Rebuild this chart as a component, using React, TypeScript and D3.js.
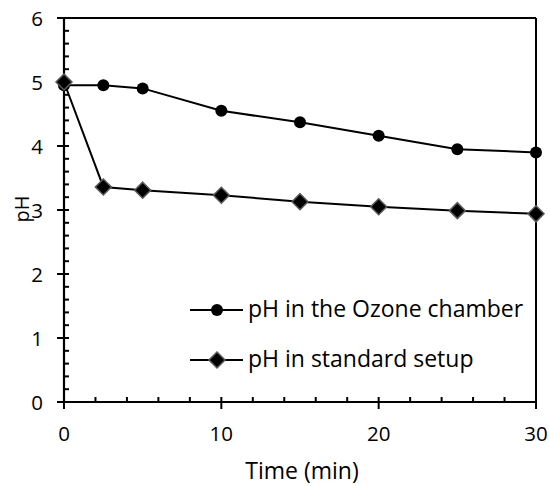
import React from "react";
import * as d3 from "d3";

const timeMin = [0, 2.5, 5, 10, 15, 20, 25, 30];
const phOzone = [4.95, 4.95, 4.9, 4.55, 4.37, 4.16, 3.95, 3.9];
const phStandard = [5.0, 3.36, 3.31, 3.23, 3.13, 3.05, 2.99, 2.94];
const seriesNames = ["pH in the Ozone chamber", "pH in standard setup"];
const xTicks = [0, 10, 20, 30];
const yTicks = [0, 1, 2, 3, 4, 5, 6];

const W = 549;
const H = 486;
const M = { left: 64, right: 13, top: 18, bottom: 84 };
const FONT = "'Open Sans', Lato, sans-serif";

export default function App() {
  const x = d3.scaleLinear().domain([0, 30]).range([M.left, W - M.right]);
  const y = d3.scaleLinear().domain([0, 6]).range([H - M.bottom, M.top]);
  const line = d3
    .line<number>()
    .x((_, i) => x(timeMin[i]))
    .y((v) => y(v));

  const xMinor = d3.range(0, 30.001, 2);
  const yMinor = d3.range(0, 6.001, 0.2);
  const diamond = (cx: number, cy: number, r: number) =>
    `M${cx},${cy - r}L${cx + r},${cy}L${cx},${cy + r}L${cx - r},${cy}Z`;

  const x0 = x(0);
  const y0 = y(0);

  return (
    <svg
      width={W}
      height={H}
      style={{ position: "absolute", left: 0, top: 0, background: "#fff" }}
      fontFamily={FONT}
    >
      {/* frame: top and right borders */}
      <line x1={x0} x2={x(30)} y1={y(6)} y2={y(6)} stroke="#000" strokeWidth={2} />
      <line x1={x(30)} x2={x(30)} y1={y(6)} y2={y0} stroke="#000" strokeWidth={2} />

      {/* minor ticks inside */}
      {yMinor.map((v, i) => (
        <line key={"ym" + i} x1={x0} x2={x0 + 5} y1={y(v)} y2={y(v)} stroke="#000" strokeWidth={2} />
      ))}
      {xMinor.map((v, i) => (
        <line key={"xm" + i} x1={x(v)} x2={x(v)} y1={y0} y2={y0 - 5} stroke="#000" strokeWidth={2} />
      ))}
      {/* major ticks outside */}
      {yTicks.map((v) => (
        <line key={"yM" + v} x1={x0 - 7} x2={x0} y1={y(v)} y2={y(v)} stroke="#000" strokeWidth={2} />
      ))}
      {xTicks.map((v) => (
        <line key={"xM" + v} x1={x(v)} x2={x(v)} y1={y0} y2={y0 + 7} stroke="#000" strokeWidth={2} />
      ))}

      {/* axes */}
      <line x1={x0} x2={x0} y1={y(6)} y2={y0} stroke="#000" strokeWidth={2.2} />
      <line x1={x0} x2={x(30)} y1={y0} y2={y0} stroke="#000" strokeWidth={2.2} />

      {/* tick labels */}
      {yTicks.map((v) => (
        <text key={"yl" + v} x={x0 - 21} y={y(v) + 7.5} textAnchor="end" fontSize={20.5} fill="#000">
          {v}
        </text>
      ))}
      {xTicks.map((v) => (
        <text key={"xl" + v} x={x(v)} y={y0 + 38.5} textAnchor="middle" fontSize={20.5} fill="#000">
          {v}
        </text>
      ))}

      {/* axis titles */}
      <text x={302} y={479} textAnchor="middle" fontSize={23} fill="#000">
        Time (min)
      </text>
      <text
        transform={`translate(29,209) rotate(-90)`}
        textAnchor="middle"
        fontSize={20}
        fill="#000"
      >
        pH
      </text>

      {/* series lines */}
      <path d={line(phOzone) || ""} fill="none" stroke="#000" strokeWidth={2} />
      <path d={line(phStandard) || ""} fill="none" stroke="#000" strokeWidth={2} />

      {/* markers */}
      {phOzone.map((v, i) => (
        <circle key={"c" + i} cx={x(timeMin[i])} cy={y(v)} r={6} fill="#000" />
      ))}
      {phStandard.map((v, i) => (
        <path key={"d" + i} d={diamond(x(timeMin[i]), y(v), 8)} fill="#000" stroke="#5a5a5a" strokeWidth={1.5} />
      ))}

      {/* legend */}
      <g>
        <line x1={190} x2={243} y1={310} y2={310} stroke="#000" strokeWidth={2} />
        <circle cx={217} cy={310} r={6} fill="#000" />
        <text x={248} y={317} fontSize={23} fill="#000">
          {seriesNames[0]}
        </text>
        <line x1={190} x2={243} y1={360} y2={360} stroke="#000" strokeWidth={2} />
        <path d={diamond(217, 360, 8)} fill="#000" stroke="#5a5a5a" strokeWidth={1.5} />
        <text x={248} y={367} fontSize={23} fill="#000">
          {seriesNames[1]}
        </text>
      </g>
    </svg>
  );
}
